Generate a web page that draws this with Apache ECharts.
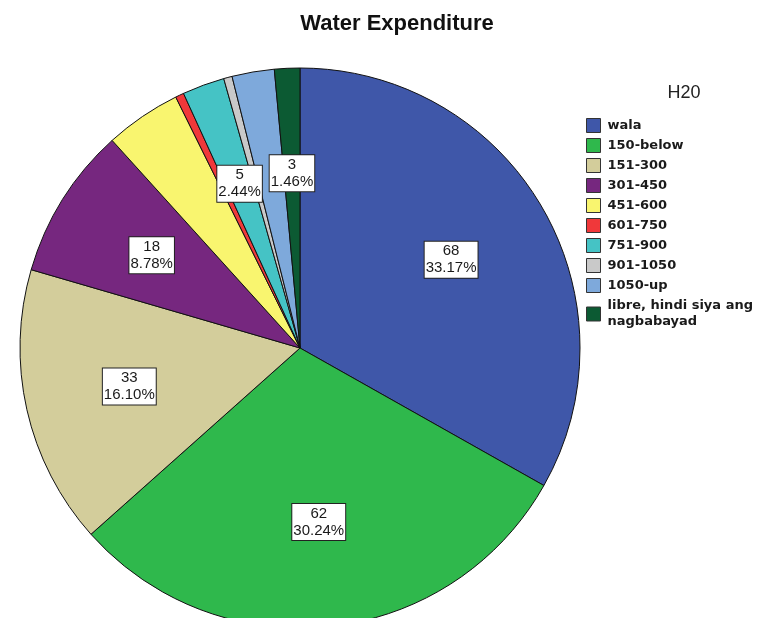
<!DOCTYPE html>
<html>
<head>
<meta charset="utf-8">
<script src="https://cdn.jsdelivr.net/npm/echarts@6/dist/echarts.min.js"></script>
<style>
  html, body { margin: 0; padding: 0; background: #fff; }
  #chart { width: 766px; height: 618px; }
</style>
</head>
<body>
<div id="chart"></div>
<script>
// categories and counts (H20)
const categories = ['wala', '150-below', '151-300', '301-450', '451-600', '601-750', '751-900', '901-1050', '1050-up', 'libre, hindi siya ang nagbabayad']
const counts = [68, 62, 33, 18, 9, 1, 5, 1, 5, 3]
const colors = ['#3f57a9', '#2fb84c', '#d3cd9b', '#76277f', '#f9f56f', '#f0383a', '#45c3c5', '#c9c9c9', '#7ea9db', '#0c5a33']
// SPSS only labelled some of the slices
const labelled = ['wala', '150-below', '151-300', '301-450', '751-900', 'libre, hindi siya ang nagbabayad']

const chart = echarts.init(document.getElementById('chart'))

const pieData = categories.map((name, i) => {
    return { name: name, value: counts[i], itemStyle: { color: colors[i] } }
})

// transparent copy of the pie, only used to place the value boxes a bit further out
const labelData = categories.map((name, i) => {
    return {
        name: name,
        value: counts[i],
        label: { show: labelled.indexOf(name) >= 0 }
    }
})

const option = {
    animation: false,
    title: [
        {
            text: 'Water Expenditure',
            left: 392,
            top: 8,
            textAlign: 'center',
            textStyle: { fontFamily: 'Liberation Sans', fontSize: 22, fontWeight: 'bold', color: '#111' }
        },
        {
            text: 'H20',
            left: 679,
            top: 79,
            textAlign: 'center',
            textStyle: { fontFamily: 'Liberation Sans', fontSize: 18, fontWeight: 'normal', color: '#222' }
        }
    ],
    legend: {
        orient: 'vertical',
        left: 586,
        top: 118,
        padding: 0,
        itemWidth: 14,
        itemHeight: 14,
        itemGap: 5,
        icon: 'rect',
        selectedMode: false,
        data: categories,
        itemStyle: { borderColor: '#333', borderWidth: 1 },
        textStyle: {
            fontFamily: 'DejaVu Sans',
            fontSize: 13,
            fontWeight: 'bold',
            color: '#1a1a1a',
            lineHeight: 14,
            padding: [0, 0, 0, 2],
            rich: {
                two: { fontFamily: 'DejaVu Sans', fontSize: 13, fontWeight: 'bold', color: '#1a1a1a', lineHeight: 16 }
            }
        },
        formatter: function(name) {
            return name === 'libre, hindi siya ang nagbabayad' ? '{two|libre, hindi siya ang}\n{two|nagbabayad}' : name
        }
    },
    series: [
        {
            type: 'pie',
            center: [300, 348],
            radius: [0, 280],
            startAngle: 90,
            clockwise: true,
            avoidLabelOverlap: false,
            itemStyle: { borderColor: '#111', borderWidth: 1 },
            label: { show: false },
            labelLine: { show: false },
            emphasis: { disabled: true },
            data: pieData
        },
        {
            type: 'pie',
            center: [300, 348],
            radius: [64, 280],
            startAngle: 90,
            clockwise: true,
            silent: true,
            avoidLabelOverlap: false,
            percentPrecision: 2,
            itemStyle: { color: 'rgba(0,0,0,0)', borderWidth: 0 },
            label: {
                position: 'inside',
                formatter: function(p) {
                    return p.value + '\n' + p.percent.toFixed(2) + '%'
                },
                fontFamily: 'Liberation Sans',
                fontSize: 15,
                lineHeight: 17,
                color: '#1a1a1a',
                backgroundColor: '#fff',
                borderColor: '#222',
                borderWidth: 1,
                padding: [2, 1, 0, 1],
                align: 'center'
            },
            labelLine: { show: false },
            emphasis: { disabled: true },
            data: labelData
        }
    ]
}

chart.setOption(option)
</script>
</body>
</html>
